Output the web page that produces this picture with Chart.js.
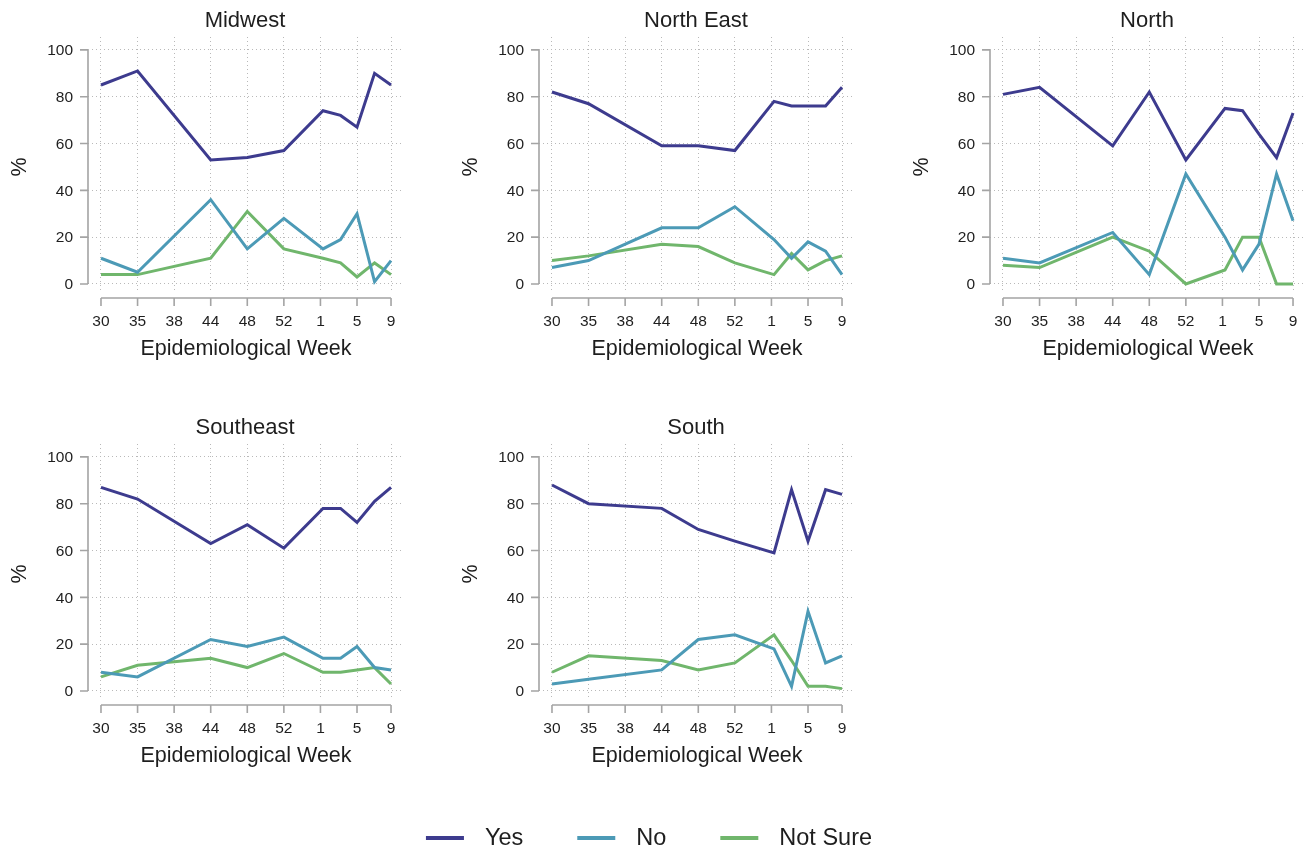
<!DOCTYPE html>
<html>
<head>
<meta charset="utf-8">
<script src="https://cdn.jsdelivr.net/npm/chart.js@4.4.1/dist/chart.umd.min.js"></script>
<style>
  html, body { margin: 0; padding: 0; background: #fff; width: 1308px; height: 849px; overflow: hidden; }
  canvas { position: absolute; }
</style>
</head>
<body>
<canvas id="panel0" width="420" height="380" style="left:0px;top:0px"></canvas>
<canvas id="panel1" width="420" height="380" style="left:451px;top:0px"></canvas>
<canvas id="panel2" width="420" height="380" style="left:902px;top:0px"></canvas>
<canvas id="panel3" width="420" height="380" style="left:0px;top:407px"></canvas>
<canvas id="panel4" width="420" height="380" style="left:451px;top:407px"></canvas>
<canvas id="legend" width="1298" height="49" style="left:0px;top:800px"></canvas>
<script>
// Epidemiological week tick labels and where they sit on the survey-round axis
const weekLabels = ['30', '35', '38', '44', '48', '52', '1', '5', '9'];
const weekTickPos = [0, 1, 2, 3, 4, 5, 6, 7, 7.93];
// Axis position of each survey round (weeks 30 .. 9)
const roundPos = [0, 1, 3, 4, 5, 6.07, 6.55, 7, 7.48, 7.93];
const percentTicks = [0, 20, 40, 60, 80, 100];

const seriesNames = ['Yes', 'No', 'Not Sure'];
const seriesColors = ['#3d3b8e', '#4c9ab6', '#70b66c'];

const regions = ['Midwest', 'North East', 'North', 'Southeast', 'South'];

const midwestYes      = [85, 91, 53, 54, 57, 74, 72, 67, 90, 85];
const midwestNo       = [11, 5, 36, 15, 28, 15, 19, 30, 1, 10];
const midwestNotSure  = [4, 4, 11, 31, 15, 11, 9, 3, 9, 4];

const northEastYes     = [82, 77, 59, 59, 57, 78, 76, 76, 76, 84];
const northEastNo      = [7, 10, 24, 24, 33, 19, 11, 18, 14, 4];
const northEastNotSure = [10, 12, 17, 16, 9, 4, 13, 6, 10, 12];

const northYes      = [81, 84, 59, 82, 53, 75, 74, 64, 54, 73];
const northNo       = [11, 9, 22, 4, 47, 20, 6, 17, 47, 27];
const northNotSure  = [8, 7, 20, 14, 0, 6, 20, 20, 0, 0];

const southeastYes     = [87, 82, 63, 71, 61, 78, 78, 72, 81, 87];
const southeastNo      = [8, 6, 22, 19, 23, 14, 14, 19, 10, 9];
const southeastNotSure = [6, 11, 14, 10, 16, 8, 8, 9, 10, 3];

const southYes      = [88, 80, 78, 69, 64, 59, 86, 64, 86, 84];
const southNo       = [3, 5, 9, 22, 24, 18, 2, 34, 12, 15];
const southNotSure  = [8, 15, 13, 9, 12, 24, 13, 2, 2, 1];

const regionSeries = [
  [midwestYes, midwestNo, midwestNotSure],
  [northEastYes, northEastNo, northEastNotSure],
  [northYes, northNo, northNotSure],
  [southeastYes, southeastNo, southeastNotSure],
  [southYes, southNo, southNotSure]
];

const FONT = '"Liberation Sans", Arial, Helvetica, sans-serif';
const TEXT_COLOR = '#1e1e1e';
const AXIS_COLOR = '#a4a4a4';
const GRID_COLOR = '#b9b9b9';

// Draws the offset axes, tick marks, labels and panel title around the plot region
const panelAxes = {
  id: 'panelAxes',
  afterDraw(chart, args, opts) {
    const { ctx, chartArea: ca } = chart;
    const xs = chart.scales.x, ys = chart.scales.y;
    const y0 = ys.getPixelForValue(0);
    const y100 = ys.getPixelForValue(100);
    const xFirst = xs.getPixelForValue(weekTickPos[0]);
    const xLast = xs.getPixelForValue(weekTickPos[weekTickPos.length - 1]);
    const axisY = y0 + 14;

    ctx.save();
    ctx.strokeStyle = AXIS_COLOR;
    ctx.lineWidth = 1.6;
    ctx.beginPath();
    // y axis and its ticks
    ctx.moveTo(ca.left, y0);
    ctx.lineTo(ca.left, y100);
    percentTicks.forEach(v => {
      const py = ys.getPixelForValue(v);
      ctx.moveTo(ca.left - 8, py);
      ctx.lineTo(ca.left, py);
    });
    // x axis and its ticks
    ctx.moveTo(xFirst, axisY);
    ctx.lineTo(xLast, axisY);
    weekTickPos.forEach(v => {
      const px = xs.getPixelForValue(v);
      ctx.moveTo(px, axisY);
      ctx.lineTo(px, axisY + 8);
    });
    ctx.stroke();

    ctx.fillStyle = TEXT_COLOR;
    ctx.font = '15.5px ' + FONT;
    ctx.textBaseline = 'middle';
    ctx.textAlign = 'right';
    percentTicks.forEach(v => {
      ctx.fillText(String(v), ca.left - 15, ys.getPixelForValue(v) + 1);
    });
    ctx.textAlign = 'center';
    weekLabels.forEach((lab, i) => {
      ctx.fillText(lab, xs.getPixelForValue(weekTickPos[i]), y0 + 37.5);
    });

    ctx.font = '21.5px ' + FONT;
    ctx.fillText('Epidemiological Week', (xFirst + xLast) / 2, y0 + 65);

    ctx.save();
    ctx.translate(ca.left - 68, (y0 + y100) / 2);
    ctx.rotate(-Math.PI / 2);
    ctx.fillText('%', 0, 0);
    ctx.restore();

    ctx.font = '22px ' + FONT;
    ctx.fillText(opts.title, (ca.left + ca.right) / 2, y100 - 29);
    ctx.restore();
  }
};

regions.forEach((name, r) => {
  const datasets = seriesNames.map((s, k) => ({
    label: s,
    data: regionSeries[r][k].map((v, i) => ({ x: roundPos[i], y: v })),
    borderColor: seriesColors[k],
    backgroundColor: seriesColors[k],
    borderWidth: 3,
    pointRadius: 0,
    tension: 0,
    fill: false
  }));

  new Chart(document.getElementById('panel' + r), {
    type: 'line',
    data: { datasets },
    plugins: [panelAxes],
    options: {
      responsive: false,
      animation: false,
      events: [],
      layout: { padding: { left: 88, top: 37, right: 18, bottom: 89 } },
      plugins: {
        legend: { display: false },
        tooltip: { enabled: false },
        title: { display: false },
        panelAxes: { title: name }
      },
      scales: {
        x: {
          type: 'linear',
          min: -0.355,
          max: 8.23,
          afterBuildTicks: sc => { sc.ticks = weekTickPos.map(v => ({ value: v })); },
          ticks: { display: false },
          grid: { color: GRID_COLOR, lineWidth: 1, drawTicks: false },
          border: { display: false, dash: [1, 3] }
        },
        y: {
          type: 'linear',
          min: -3,
          max: 105.5,
          afterBuildTicks: sc => { sc.ticks = percentTicks.map(v => ({ value: v })); },
          ticks: { display: false },
          grid: { color: GRID_COLOR, lineWidth: 1, drawTicks: false },
          border: { display: false, dash: [1, 3] }
        }
      }
    }
  });
});

// Shared legend drawn along the bottom
const legendDraw = {
  id: 'legendDraw',
  afterDraw(chart) {
    const { ctx } = chart;
    const items = chart.data.datasets;
    const lineLen = 38, textGap = 21, itemGap = 54, fontSize = 23.5;
    ctx.save();
    ctx.font = fontSize + 'px ' + FONT;
    const widths = items.map(d => lineLen + textGap + ctx.measureText(d.label).width);
    const total = widths.reduce((a, b) => a + b, 0) + itemGap * (items.length - 1);
    let x = chart.width / 2 - total / 2;
    const cy = 38;
    items.forEach((d, i) => {
      ctx.strokeStyle = d.borderColor;
      ctx.lineWidth = 4;
      ctx.beginPath();
      ctx.moveTo(x, cy);
      ctx.lineTo(x + lineLen, cy);
      ctx.stroke();
      ctx.fillStyle = TEXT_COLOR;
      ctx.textAlign = 'left';
      ctx.textBaseline = 'middle';
      ctx.fillText(d.label, x + lineLen + textGap, cy + 1);
      x += widths[i] + itemGap;
    });
    ctx.restore();
  }
};

new Chart(document.getElementById('legend'), {
  type: 'line',
  data: {
    datasets: seriesNames.map((s, k) => ({ label: s, data: [], borderColor: seriesColors[k] }))
  },
  plugins: [legendDraw],
  options: {
    responsive: false,
    animation: false,
    events: [],
    plugins: { legend: { display: false }, tooltip: { enabled: false } },
    scales: { x: { display: false }, y: { display: false } }
  }
});
</script>
</body>
</html>
